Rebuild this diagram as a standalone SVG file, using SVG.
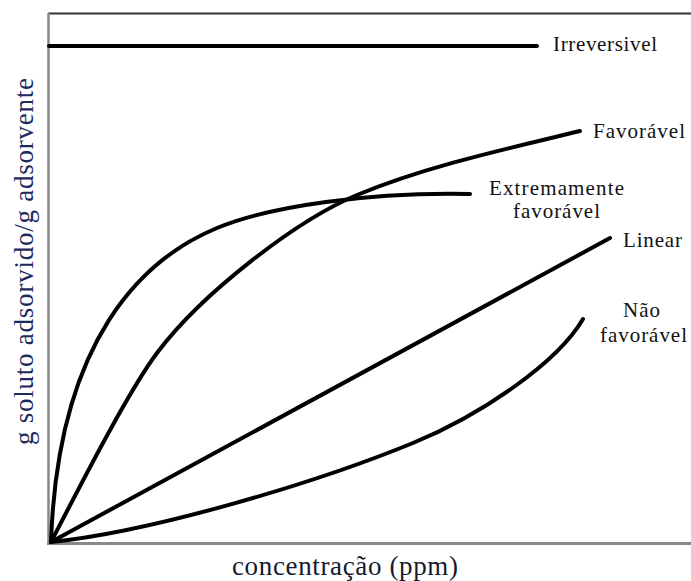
<svg xmlns="http://www.w3.org/2000/svg" width="691" height="581" viewBox="0 0 691 581">
<style>
.frame{fill:none;stroke-linecap:butt}
.curve{fill:none;stroke:#000;stroke-width:4;stroke-linecap:round;stroke-linejoin:round}
text{font-family:"Liberation Serif","Times New Roman",serif}
.lbl{font-size:21px;fill:#111}
.axis{font-size:27px}
</style>
<rect width="691" height="581" fill="#fff"/>
<g id="frame">
<line class="frame" x1="48" y1="13.5" x2="691" y2="13.5" stroke="#333" stroke-width="2"/>
<line class="frame" x1="48.5" y1="13" x2="48.5" y2="545" stroke="#888" stroke-width="2.5"/>
<line class="frame" x1="47" y1="543.5" x2="691" y2="543.5" stroke="#888" stroke-width="3"/>
</g>
<g id="connectors">
<path id="irreversivel" class="curve" d="M49,46 L537,46"/>
<path id="extremamente" class="curve" d="M51,542 C58,340 142,259 217,228 C270,206 370,192 470,194"/>
<path id="favoravel" class="curve" d="M51,542 C76,494 127,393 157,353 C202,293 297,220 357,195 C432,164 520,146 580,131"/>
<path id="linear" class="curve" d="M51,542 L610,238"/>
<path id="naofavoravel" class="curve" d="M51,542 C150,532 313,484 413,443 C483,414 558,362 583,319"/>
</g>
<g id="labels">
<text class="lbl" x="553" y="51" textLength="104">Irreversivel</text>
<text class="lbl" x="593" y="138" textLength="92">Favorável</text>
<text class="lbl" x="489" y="195" textLength="135">Extremamente</text>
<text class="lbl" x="513" y="218" textLength="87">favorável</text>
<text class="lbl" x="623" y="247" textLength="59">Linear</text>
<text class="lbl" x="623" y="317" textLength="37">Não</text>
<text class="lbl" x="600" y="342" textLength="87">favorável</text>
</g>
<g id="axis-labels">
<text class="axis" x="345" y="575" text-anchor="middle" textLength="226" fill="#151a30">concentração (ppm)</text>
<text class="axis" transform="translate(33,261.5) rotate(-90)" x="0" y="0" text-anchor="middle" textLength="367" fill="#1d2a5e">g soluto adsorvido/g adsorvente</text>
</g>
</svg>
